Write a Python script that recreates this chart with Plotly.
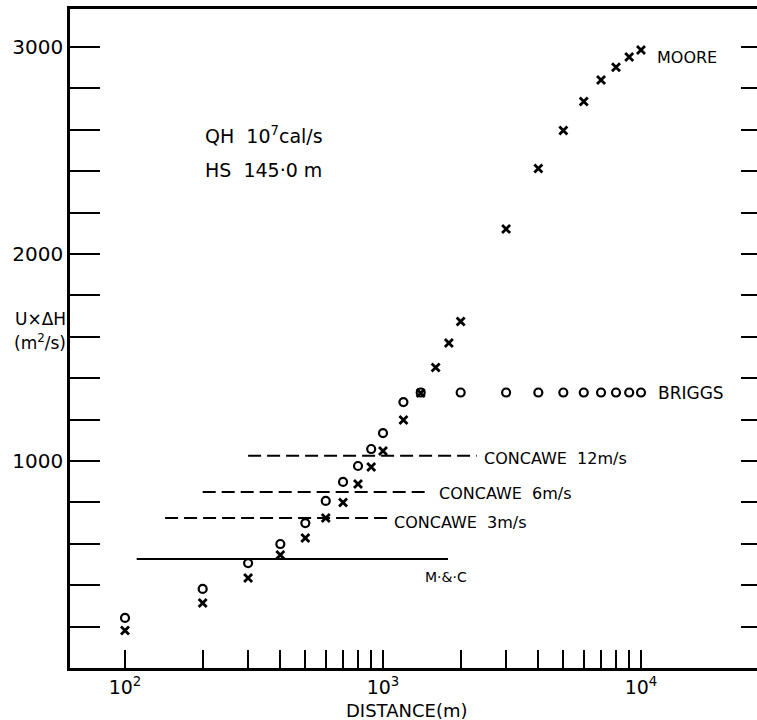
import plotly.graph_objects as go
import numpy as np

# ---- data ----
moore_x = [100, 200, 300, 400, 500, 600, 700, 800, 900, 1000, 1200, 1400, 1600, 1800, 2000,
           3000, 4000, 5000, 6000, 7000, 8000, 9000, 10000]
moore_y = [181, 314, 435, 546, 628, 725, 800, 889, 971, 1048, 1198, 1329, 1452, 1570, 1674,
           2121, 2413, 2597, 2737, 2841, 2903, 2952, 2986]

briggs_x = [100, 200, 300, 400, 500, 600, 700, 800, 900, 1000, 1200, 1400,
            2000, 3000, 4000, 5000, 6000, 7000, 8000, 9000, 10000]
briggs_y = [242, 382, 507, 599, 700, 807, 899, 976, 1058, 1135, 1285, 1331,
            1331, 1331, 1331, 1331, 1331, 1331, 1331, 1331, 1331]

concawe_names = ["CONCAWE  12m/s", "CONCAWE  6m/s", "CONCAWE  3m/s"]
concawe_value = [1025, 850, 725]
concawe_xstart = [300, 200, 143]
concawe_xend = [2310, 1520, 1054]

mc_value = 527
mc_x = [111, 1786]

x_tickvals = [100, 200, 300, 400, 500, 600, 700, 800, 900,
              1000, 2000, 3000, 4000, 5000, 6000, 7000, 8000, 9000, 10000]
x_labels = {100: "10<sup>2</sup>", 1000: "10<sup>3</sup>", 10000: "10<sup>4</sup>"}
y_tickvals = list(range(200, 3001, 200))
y_labels = {1000: "1000", 2000: "2000", 3000: "3000"}

FONT = "DejaVu Sans"
W, H = 757, 720
ML, MR, MT, MB = 70, 0, 9, 52
PW, PH = W - ML - MR, H - MT - MB

def px(xp):
    return (xp - ML) / PW

def py(yp):
    return (H - MB - yp) / PH

fig = go.Figure()

# CONCAWE dashed lines
for v, xs, xe in zip(concawe_value, concawe_xstart, concawe_xend):
    fig.add_trace(go.Scatter(x=[xs, xe], y=[v, v], mode="lines",
                             line=dict(color="black", width=2, dash="13px,6px"),
                             showlegend=False, hoverinfo="skip"))
# M&C solid
fig.add_trace(go.Scatter(x=mc_x, y=[mc_value, mc_value], mode="lines",
                         line=dict(color="black", width=2),
                         showlegend=False, hoverinfo="skip"))

fig.add_trace(go.Scatter(x=briggs_x, y=briggs_y, mode="markers",
                         marker=dict(symbol="circle-open", size=8, color="black",
                                     line=dict(width=2.2, color="black")),
                         showlegend=False))
fig.add_trace(go.Scatter(x=moore_x, y=moore_y, mode="markers",
                         marker=dict(symbol="x-thin-open", size=8, color="black",
                                     line=dict(width=2.8, color="black")),
                         showlegend=False))

# right-side ticks (no spine)
fig.add_trace(go.Scatter(x=[1000], y=[None], yaxis="y2", showlegend=False, hoverinfo="skip"))

yr = [0, 3184]
xr = [np.log10(100) + (ML - 125) / 258, np.log10(100) + (W - MR - 125) / 258]

fig.update_layout(
    width=W, height=H,
    margin=dict(l=ML, r=MR, t=MT, b=MB),
    paper_bgcolor="white", plot_bgcolor="white",
    font=dict(family=FONT, color="black", size=18),
    xaxis=dict(type="log", range=xr, showgrid=False, zeroline=False,
               showline=True, linecolor="black", linewidth=2.5, mirror=True,
               ticks="inside", ticklen=18, tickwidth=2, tickcolor="black",
               tickmode="array", tickvals=x_tickvals,
               ticktext=[x_labels.get(v, "") for v in x_tickvals],
               tickfont=dict(family=FONT, size=19)),
    yaxis=dict(range=yr, showgrid=False, zeroline=False,
               showline=True, linecolor="black", linewidth=2.5,
               ticks="inside", ticklen=30, tickwidth=2, tickcolor="black",
               tickmode="array", tickvals=y_tickvals,
               ticktext=[y_labels.get(v, "") for v in y_tickvals],
               tickfont=dict(family=FONT, size=20)),
    yaxis2=dict(range=yr, overlaying="y", side="right", showgrid=False, zeroline=False,
                showline=False, ticks="inside", ticklen=16, tickwidth=2, tickcolor="black",
                tickmode="array", tickvals=y_tickvals, showticklabels=False),
)

def ann(text, xp, yp, size=17, xanchor="left"):
    fig.add_annotation(text=text, xref="paper", yref="paper", x=px(xp), y=py(yp),
                       xanchor=xanchor, yanchor="middle", showarrow=False,
                       font=dict(family=FONT, size=size, color="black"))

ann("QH  10<sup>7</sup>cal/s", 203, 135, 19)
ann("HS  145·0 m", 203, 170, 19)
ann("MOORE", 655, 57, 16)
ann("BRIGGS", 656, 393, 17)
for name, xl, yl in zip(concawe_names, [482, 437, 392], [458, 493, 522]):
    ann(name, xl, yl, 16)
ann("M·&·C", 446, 577, 14, "center")
ann("U×ΔH", 68, 319, 17, "right")
ann("(m<sup>2</sup>/s)", 68, 342, 17, "right")
ann("DISTANCE(m)", 407, 710, 18, "center")

fig.write_html("out.html")
